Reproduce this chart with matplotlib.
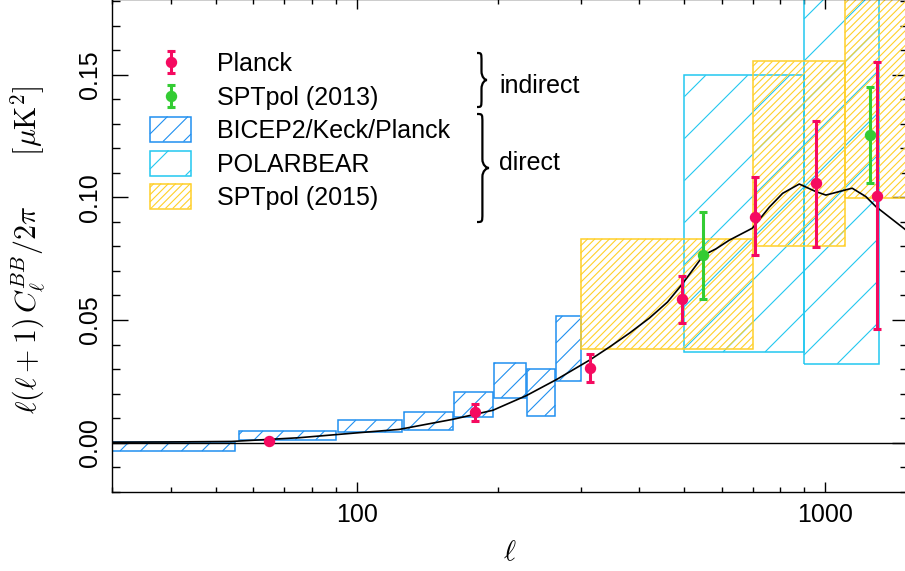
import numpy as np
import matplotlib
matplotlib.use('Agg')
import matplotlib.pyplot as plt
from matplotlib.patches import Rectangle, PathPatch
from matplotlib.collections import LineCollection
from matplotlib.lines import Line2D
from matplotlib.path import Path
from matplotlib.transforms import IdentityTransform
from matplotlib.ticker import FixedLocator, MultipleLocator, FuncFormatter, NullFormatter, LogLocator

plt.rcParams['font.family'] = ['Liberation Sans', 'DejaVu Sans']
plt.rcParams['mathtext.fontset'] = 'cm'

# lensing B-mode theory curve
theory_ell = [30, 40, 54, 75, 100, 123, 160, 195, 230, 267, 314, 346, 382, 421, 460,
              495, 549, 584, 623, 698, 759, 810, 879, 954, 1002, 1140, 1219, 1281, 1500]
theory_dl = [0.0002, 0.0003, 0.0005, 0.0020, 0.0040, 0.0054, 0.0095, 0.0132, 0.0192,
             0.0258, 0.0337, 0.0390, 0.0447, 0.0508, 0.0573, 0.0647, 0.0764, 0.0790,
             0.0825, 0.0874, 0.0960, 0.1016, 0.1054, 0.1023, 0.1009, 0.1037, 0.1003,
             0.0962, 0.0860]

# Planck (indirect)
planck_ell = [65, 179, 314, 493, 707, 954, 1291]
planck_dl = [0.0008, 0.0124, 0.0303, 0.0584, 0.0921, 0.1057, 0.1005]
planck_lo = [0.0004, 0.0090, 0.0249, 0.0487, 0.0763, 0.0799, 0.0463]
planck_hi = [0.0012, 0.0157, 0.0360, 0.0679, 0.1084, 0.1311, 0.1550]

# SPTpol 2013 (indirect)
spt13_ell = [549, 1243]
spt13_dl = [0.0764, 0.1254]
spt13_lo = [0.0586, 0.1057]
spt13_hi = [0.0939, 0.1448]

# BICEP2/Keck/Planck bandpowers
bk_lmin = [20, 56, 91, 126, 161, 196, 231, 266]
bk_lmax = [55, 90, 125, 160, 195, 230, 265, 300]
bk_lo = [-0.0034, 0.0012, 0.0042, 0.0052, 0.0106, 0.0183, 0.0110, 0.0253]
bk_hi = [0.0002, 0.0048, 0.0092, 0.0124, 0.0205, 0.0326, 0.0300, 0.0516]

# POLARBEAR bandpowers
pb_lmin = [500, 900]
pb_lmax = [900, 1300]
pb_lo = [0.0370, 0.0322]
pb_hi = [0.1497, 0.2500]

# SPTpol 2015 bandpowers
spt15_lmin = [300, 700, 1100]
spt15_lmax = [700, 1100, 1500]
spt15_lo = [0.0382, 0.0803, 0.0997]
spt15_hi = [0.0831, 0.1554, 0.2200]

PINK = '#f50a60'
GREEN = '#33cc33'
BLUE = '#2090f0'
CYAN = '#22c8f0'
YELLOW = '#ffd02a'

W, H = 905, 571
fig = plt.figure(figsize=(W / 100, H / 100), dpi=100)
ax = fig.add_axes([112 / W, 79 / H, 796 / W, 493 / H])
ax.set_xscale('log')
ax.set_xlim(30, 1500)
ax.set_ylim(-0.0201, 0.1808)
ax.set_autoscale_on(False)


def hatch_segments(x0, y0, x1, y1, step):
    # 45 degree lines (display pixels) filling a rectangle
    segs = []
    k0 = int(np.floor((y0 - x1) / step))
    k1 = int(np.ceil((y1 - x0) / step))
    for k in range(k0, k1 + 1):
        c = k * step
        xs = max(x0, y0 - c)
        xe = min(x1, y1 - c)
        if xe > xs:
            segs.append([(xs, xs + c), (xe, xe + c)])
    return segs


def band_boxes(lmin, lmax, lo, hi, color, step):
    bb = ax.bbox
    for l0, l1, b, t in zip(lmin, lmax, lo, hi):
        ax.add_patch(Rectangle((l0, b), l1 - l0, t - b, fill=False, ec=color,
                               lw=1.1, zorder=2))
        (x0, y0), (x1, y1) = ax.transData.transform([(l0, b), (l1, t)])
        x0, x1 = max(x0, bb.x0), min(x1, bb.x1)
        y0, y1 = max(y0, bb.y0), min(y1, bb.y1)
        lc = LineCollection(hatch_segments(x0, y0, x1, y1, step), colors=color,
                            linewidths=0.8, transform=IdentityTransform(), zorder=2)
        ax.add_collection(lc, autolim=False)


band_boxes(bk_lmin, bk_lmax, bk_lo, bk_hi, BLUE, 20.5)
band_boxes(pb_lmin, pb_lmax, pb_lo, pb_hi, CYAN, 42)
band_boxes(spt15_lmin, spt15_lmax, spt15_lo, spt15_hi, YELLOW, 7.3)

ax.axhline(0, color='black', lw=1.0, zorder=3)
ax.plot(theory_ell, theory_dl, color='black', lw=1.2, zorder=3)


def points(ell, dl, lo, hi, color):
    dl = np.array(dl)
    yerr = [dl - np.array(lo), np.array(hi) - dl]
    ax.errorbar(ell, dl, yerr=yerr, fmt='o', color=color, ms=7.2, elinewidth=2.2,
                capsize=3, capthick=2.2, zorder=5)


points(planck_ell, planck_dl, planck_lo, planck_hi, PINK)
points(spt13_ell, spt13_dl, spt13_lo, spt13_hi, GREEN)

# axes styling
ax.xaxis.set_major_locator(FixedLocator([100, 1000]))
ax.xaxis.set_minor_locator(LogLocator(base=10, subs=np.arange(2, 10) * 1.0, numticks=20))
ax.xaxis.set_major_formatter(FuncFormatter(lambda v, p: f'{v:g}'))
ax.xaxis.set_minor_formatter(NullFormatter())
ax.yaxis.set_major_locator(MultipleLocator(0.05))
ax.yaxis.set_minor_locator(MultipleLocator(0.01))
ax.yaxis.set_major_formatter(FuncFormatter(lambda v, p: f'{v:.2f}'))
ax.tick_params(which='both', direction='in', top=True, right=True, width=1,
               labelsize=18)
ax.tick_params(axis='x', which='major', length=7.2, pad=8)
ax.tick_params(axis='x', which='minor', length=3.8)
ax.tick_params(axis='y', which='major', length=11.5, pad=7, labelrotation=90)
ax.tick_params(axis='y', which='minor', length=5.5)
for lab in ax.get_yticklabels():
    lab.set_va('center')
for s in ax.spines.values():
    s.set_linewidth(1.0)

fig.text(28 / W, 1 - 250 / H,
         r'$\ell(\ell+1)\,C_\ell^{BB}/2\pi\qquad[\mu\mathrm{K}^2]$',
         rotation=90, ha='center', va='center', fontsize=21.5)
fig.text(510 / W, 1 - 552 / H, r'$\ell$', ha='center', va='center', fontsize=21)


# hand-built legend
def fx(x):
    return x / W


def fy(y):
    return 1 - y / H


rows = [62, 95.7, 129, 163, 196]
names = ['Planck', 'SPTpol (2013)', 'BICEP2/Keck/Planck', 'POLARBEAR', 'SPTpol (2015)']
for y, col in zip(rows[:2], [PINK, GREEN]):
    fig.add_artist(Line2D([fx(171), fx(171)], [fy(y - 11), fy(y + 11)], color=col, lw=2.2))
    fig.add_artist(Line2D([fx(171), fx(171)], [fy(y - 11), fy(y + 11)], ls='none',
                          marker='_', ms=6, mew=2.2, color=col))
    fig.add_artist(Line2D([fx(171)], [fy(y)], ls='none', marker='o', ms=7.2, color=col))
for y, col, step in zip(rows[2:], [BLUE, CYAN, YELLOW], [20.5, 42, 7.3]):
    x0, x1 = 150, 191
    y0, y1 = H - (y + 12.5), H - (y - 12.5)
    fig.add_artist(Rectangle((x0, y0), x1 - x0, y1 - y0, fill=False, ec=col, lw=1.1,
                             transform=IdentityTransform()))
    fig.add_artist(LineCollection(hatch_segments(x0, y0, x1, y1, step), colors=col,
                                  linewidths=0.8, transform=IdentityTransform()))
for y, name in zip(rows, names):
    fig.text(fx(217), fy(y + 9), name, fontsize=18, va='baseline')


def brace(xl, ytop, ybot, tip):
    # curly brace opening to the left, pixel coords measured from top
    ym = (ytop + ybot) / 2
    xm = xl + tip * 0.45
    r = min(9, (ybot - ytop) / 5)
    verts = [(xl, ytop), (xm, ytop), (xm, ytop), (xm, ytop + r),
             (xm, ym - r), (xm, ym - 0.3 * r), (xl + tip * 0.8, ym), (xl + tip, ym),
             (xl + tip * 0.8, ym), (xm, ym + 0.3 * r), (xm, ym + r),
             (xm, ybot - r), (xm, ybot), (xm, ybot), (xl, ybot)]
    codes = [Path.MOVETO, Path.CURVE4, Path.CURVE4, Path.CURVE4,
             Path.LINETO, Path.CURVE4, Path.CURVE4, Path.CURVE4,
             Path.CURVE4, Path.CURVE4, Path.CURVE4,
             Path.LINETO, Path.CURVE4, Path.CURVE4, Path.CURVE4]
    path = Path([(fx(x), fy(y)) for x, y in verts], codes)
    fig.add_artist(PathPatch(path, fill=False, lw=1.6, ec='black',
                             transform=fig.transFigure))


brace(477, 53, 107, 10)
brace(477, 114, 222, 12)
fig.text(fx(499), fy(93), 'indirect', fontsize=18, va='baseline')
fig.text(fx(499), fy(170), 'direct', fontsize=18, va='baseline')

fig.savefig('out.png', dpi=100)
